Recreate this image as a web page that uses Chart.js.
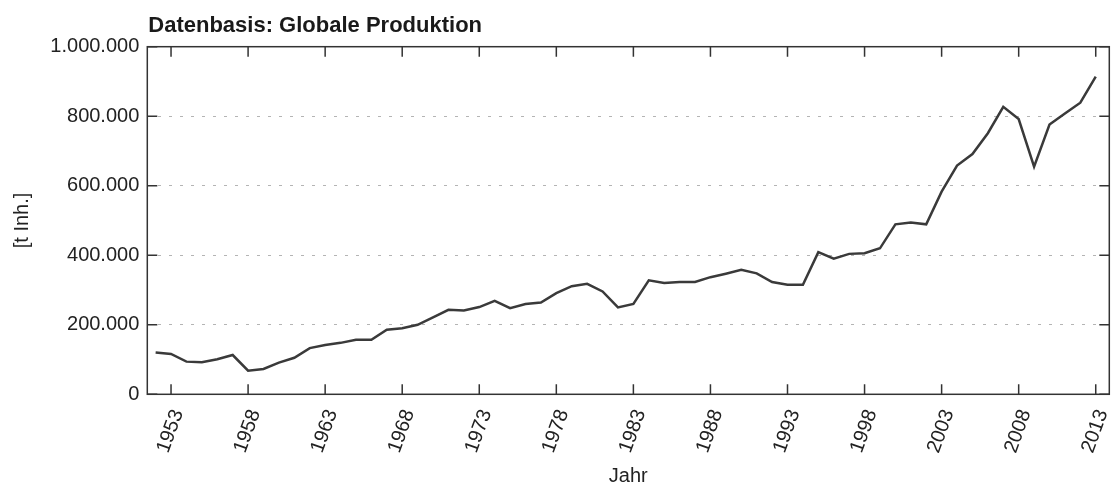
<!DOCTYPE html>
<html>
<head>
<meta charset="utf-8">
<script src="https://cdn.jsdelivr.net/npm/chart.js@4/dist/chart.umd.min.js"></script>
<style>
	html, body { margin: 0; padding: 0; background: #fff; }
	#wrap { width: 1113px; height: 488px; }
</style>
</head>
<body>
<div id="wrap"><canvas id="chart"></canvas></div>
<script>
const title = 'Datenbasis: Globale Produktion';
const x_title = 'Jahr';
const y_title = '[t Inh.]';

const years = [
	1952, 1953, 1954, 1955, 1956, 1957, 1958, 1959, 1960, 1961,
	1962, 1963, 1964, 1965, 1966, 1967, 1968, 1969, 1970, 1971,
	1972, 1973, 1974, 1975, 1976, 1977, 1978, 1979, 1980, 1981,
	1982, 1983, 1984, 1985, 1986, 1987, 1988, 1989, 1990, 1991,
	1992, 1993, 1994, 1995, 1996, 1997, 1998, 1999, 2000, 2001,
	2002, 2003, 2004, 2005, 2006, 2007, 2008, 2009, 2010, 2011,
	2012, 2013
];
const production = [
	120000, 116000, 94000, 92000, 101000, 113000, 68000, 73000, 91000, 105000,
	133000, 142000, 148000, 157000, 157000, 186000, 190000, 200000, 221000, 243000,
	241000, 251000, 269000, 248000, 260000, 264000, 291000, 311000, 318000, 296000,
	250000, 260000, 328000, 320000, 323000, 323000, 337000, 347000, 358000, 348000,
	323000, 315000, 315000, 409000, 390000, 404000, 406000, 420000, 489000, 494000,
	489000, 583000, 658000, 691000, 751000, 827000, 792000, 655000, 776000, 808000,
	839000, 914000
];
const x_ticks = [1953, 1958, 1963, 1968, 1973, 1978, 1983, 1988, 1993, 1998, 2003, 2008, 2013];
const y_ticks = [0, 200000, 400000, 600000, 800000, 1000000];

const font_family = '"Liberation Sans", Arial, Helvetica, sans-serif';
const ink = '#333333';

function de_number(v) {
	return String(v).replace(/\B(?=(\d{3})+(?!\d))/g, '.');
}

// frame with inward ticks plus the bold title
const frame_plugin = {
	id: 'frame',
	afterDraw(chart) {
		const ctx = chart.ctx;
		const a = chart.chartArea;
		const xs = chart.scales.x;
		const ys = chart.scales.y;
		const len = 10;
		ctx.save();
		ctx.strokeStyle = ink;
		ctx.lineWidth = 1.5;
		ctx.strokeRect(a.left, a.top, a.right - a.left, a.bottom - a.top);
		ctx.beginPath();
		x_ticks.forEach(v => {
			const px = xs.getPixelForValue(v);
			ctx.moveTo(px, a.bottom); ctx.lineTo(px, a.bottom - len);
			ctx.moveTo(px, a.top); ctx.lineTo(px, a.top + len);
		});
		y_ticks.forEach(v => {
			const py = ys.getPixelForValue(v);
			ctx.moveTo(a.left, py); ctx.lineTo(a.left + len, py);
			ctx.moveTo(a.right, py); ctx.lineTo(a.right - len, py);
		});
		ctx.stroke();
		ctx.fillStyle = '#1a1a1a';
		ctx.font = 'bold 22px ' + font_family;
		ctx.textAlign = 'left';
		ctx.textBaseline = 'alphabetic';
		ctx.fillText(title, a.left + 1, 32);
		ctx.restore();
	}
};

new Chart(document.getElementById('chart'), {
	type: 'line',
	data: {
		datasets: [{
			data: years.map((y, i) => ({x: y, y: production[i]})),
			borderColor: '#3a3a3a',
			borderWidth: 2.5,
			pointRadius: 0,
			tension: 0,
			fill: false
		}]
	},
	options: {
		responsive: true,
		maintainAspectRatio: false,
		animation: false,
		layout: { padding: { top: 46.7, right: 3.7, left: 0, bottom: 0 } },
		plugins: {
			legend: { display: false },
			title: { display: false },
			tooltip: { enabled: false }
		},
		scales: {
			x: {
				type: 'linear',
				min: 1951.46,
				max: 2013.88,
				afterBuildTicks: scale => {
					scale.ticks = x_ticks.map(v => ({value: v}));
				},
				afterFit: scale => {
					scale.height = 93.7;
					scale.paddingLeft = 0;
					scale.paddingRight = 0;
				},
				grid: { display: false, drawTicks: false },
				border: { display: false },
				ticks: {
					autoSkip: false,
					minRotation: 70,
					maxRotation: 70,
					padding: 12,
					labelOffset: 7,
					color: '#222',
					font: { family: font_family, size: 20 },
					callback: v => String(v)
				},
				title: {
					display: true,
					text: x_title,
					color: '#222',
					font: { family: font_family, size: 20 },
					padding: { top: 0, bottom: 0 }
				}
			},
			y: {
				min: 0,
				max: 1000000,
				afterBuildTicks: scale => {
					scale.ticks = y_ticks.map(v => ({value: v}));
				},
				afterFit: scale => {
					scale.width = 147.3;
					scale.paddingTop = 0;
					scale.paddingBottom = 0;
				},
				grid: {
					color: '#b4b4b4',
					lineWidth: 1,
					drawTicks: false
				},
				border: { display: false, dash: [3, 8] },
				ticks: {
					padding: 8,
					color: '#222',
					font: { family: font_family, size: 20 },
					callback: v => de_number(v)
				},
				title: {
					display: true,
					text: y_title,
					color: '#222',
					font: { family: font_family, size: 20 },
					padding: { top: 10, bottom: 0 }
				}
			}
		}
	},
	plugins: [frame_plugin]
});
</script>
</body>
</html>
